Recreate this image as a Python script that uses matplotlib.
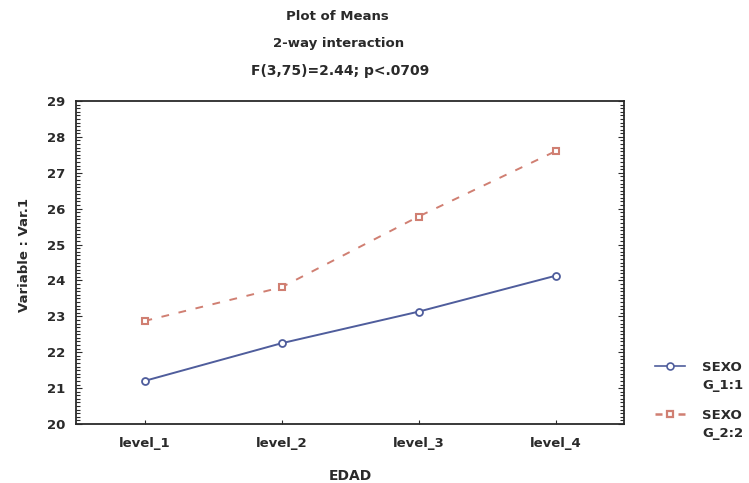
import matplotlib
matplotlib.use("Agg")
import matplotlib.pyplot as plt
from matplotlib.ticker import MultipleLocator
from matplotlib.lines import Line2D

levels = ["level_1", "level_2", "level_3", "level_4"]
sexo_g1 = [21.2, 22.25, 23.13, 24.13]
sexo_g2 = [22.87, 23.81, 25.78, 27.6]
yticks = [20, 21, 22, 23, 24, 25, 26, 27, 28, 29]
series_labels = ["SEXO\nG_1:1", "SEXO\nG_2:2"]

blue = "#4f5d9c"
red = "#d07f72"
ink = "#2a2a2a"

plt.rcParams["font.family"] = ["DejaVu Sans"]
plt.rcParams["font.weight"] = "bold"

fig = plt.figure(figsize=(7.49, 4.83), dpi=100)
W, H = 749, 483
left, right, top, bottom = 76, 624, 101, 424
ax = fig.add_axes([left / W, 1 - bottom / H, (right - left) / W, (bottom - top) / H])

x = list(range(1, len(levels) + 1))
styles = [
    dict(color=blue, lw=1.4, marker="o", ms=5, mfc="white", mec=blue, mew=1.3),
    dict(color=red, lw=1.4, ls=(0, (4, 5)), marker="s", ms=5, mfc="white",
         mec=red, mew=1.5),
]
ax.plot(x, sexo_g1, **styles[0])
ax.plot(x, sexo_g2, **styles[1])

ax.set_xlim(0.5, 4.5)
ax.set_ylim(20, 29)
ax.set_xticks(x)
ax.set_xticklabels(levels, fontsize=9.5, fontweight="bold", color=ink)
ax.set_yticks(yticks)
ax.set_yticklabels([str(v) for v in yticks], fontsize=9.5, fontweight="bold", color=ink)
ax.yaxis.set_minor_locator(MultipleLocator(0.1))
ax.tick_params(axis="y", which="both", direction="in", left=True, right=True,
               length=3, width=0.8, color=ink, pad=8)
ax.tick_params(axis="y", which="major", length=4)
ax.tick_params(axis="x", direction="in", length=3, width=0.8, color=ink, pad=9)

for s in ax.spines.values():
    s.set_color(ink)
    s.set_linewidth(1.3)

ax.set_xlabel("EDAD", fontsize=10, fontweight="bold", color=ink, labelpad=14)
fig.text(25 / W, 1 - 255 / H, "Variable : Var.1", rotation=90, ha="center",
         va="center", fontsize=9.5, fontweight="bold", color=ink)

fig.text(337 / W, 1 - 17 / H, "Plot of Means", ha="center", va="center",
         fontsize=9.5, fontweight="bold", color=ink)
fig.text(339 / W, 1 - 44 / H, "2-way interaction", ha="center", va="center",
         fontsize=9.5, fontweight="bold", color=ink)
fig.text(340 / W, 1 - 71 / H, "F(3,75)=2.44; p<.0709", ha="center", va="center",
         fontsize=10, fontweight="bold", color=ink)

# Legend: each key sits beside the first line of its two-line label
key_style = [
    dict(color=blue, lw=1.2, marker="o", ms=5, mfc="white", mec=blue, mew=1.2),
    dict(color=red, lw=1.8, ls=(0, (2.8, 6.4)), marker="s", ms=5, mfc="white",
         mec=red, mew=1.6),
]
for i, (label, ks) in enumerate(zip(series_labels, key_style)):
    y0 = 366 + i * 48
    yf = 1 - y0 / H
    line_kw = {k: v for k, v in ks.items() if k != "marker"}
    fig.add_artist(Line2D([655 / W, 685 / W], [yf, yf], transform=fig.transFigure,
                          **line_kw))
    fig.add_artist(Line2D([670 / W], [yf], transform=fig.transFigure,
                          ls="none", marker=ks["marker"], ms=ks["ms"],
                          mfc="white", mec=ks["mec"], mew=ks["mew"]))
    fig.text(702 / W, 1 - (y0 - 5) / H, label, ha="left", va="top", fontsize=9.5,
             fontweight="bold", color=ink, linespacing=1.5)

fig.savefig("out.png", dpi=100, facecolor="white")
